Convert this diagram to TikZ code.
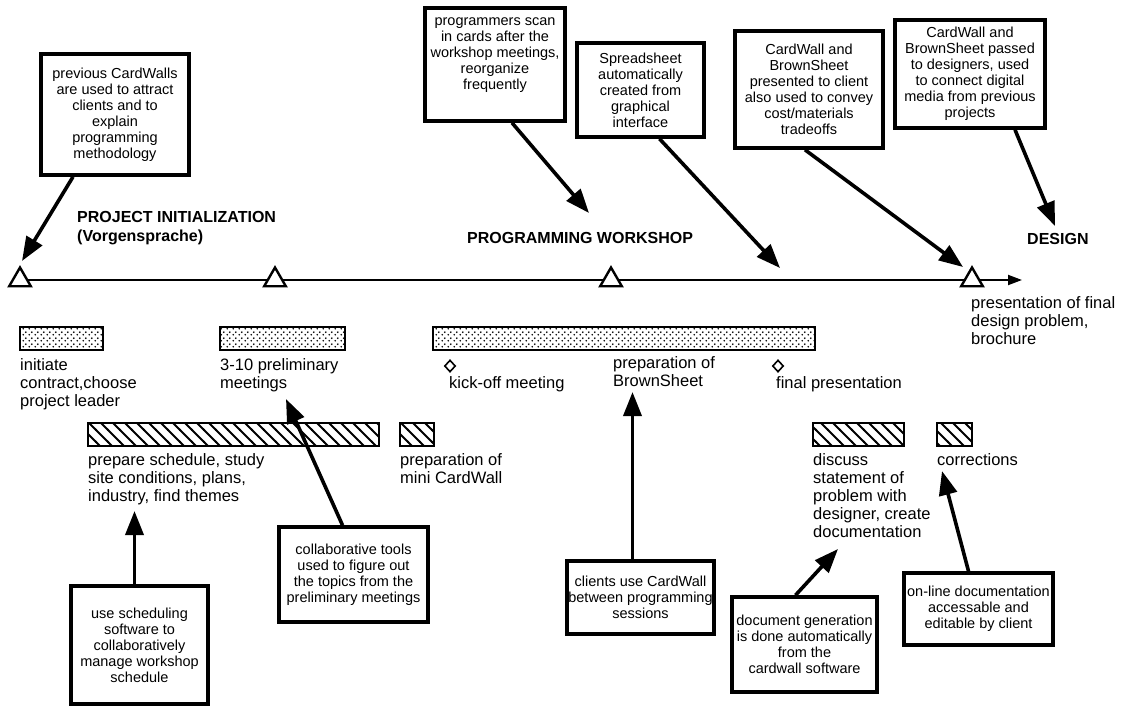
\documentclass[tikz,border=0pt]{standalone}
\usepackage{fontspec}
\setmainfont{Liberation Sans}
\usetikzlibrary{arrows.meta,shapes.geometric,patterns}
\pgfdeclarepatternformonly{sparsedots}{\pgfqpoint{0pt}{0pt}}{\pgfqpoint{5.5pt}{5.5pt}}{\pgfqpoint{5.5pt}{5.5pt}}{%
  \pgfpathcircle{\pgfqpoint{1.375pt}{1.375pt}}{1pt}%
  \pgfpathcircle{\pgfqpoint{4.125pt}{4.125pt}}{1pt}%
  \pgfusepath{fill}}
\pgfdeclarepatternformonly{widehatch}{\pgfqpoint{-1pt}{-1pt}}{\pgfqpoint{13pt}{13pt}}{\pgfqpoint{12pt}{12pt}}{%
  \pgfsetlinewidth{1.8pt}%
  \pgfpathmoveto{\pgfqpoint{-1pt}{13pt}}\pgfpathlineto{\pgfqpoint{13pt}{-1pt}}\pgfusepath{stroke}}
\tikzset{
  callout/.style={draw, line width=3.6pt, align=center, inner sep=0pt,
    font=\fontsize{14.5}{16}\selectfont},
  lbl/.style={anchor=north west, align=left, inner sep=0pt,
    font=\fontsize{16.5}{18}\selectfont},
  phase/.style={anchor=north west, align=left, inner sep=0pt,
    font=\fontsize{16}{19}\selectfont\bfseries},
  callarrow/.style={line width=3.6pt, -{Triangle[length=24pt,width=18pt]}},
  tri/.style={regular polygon, regular polygon sides=3, draw, fill=white,
    line width=2.4pt, minimum size=25pt, inner sep=0pt},
  dia/.style={diamond, draw, line width=1.6pt, minimum width=11pt, minimum height=12pt, inner sep=0pt},
  dotbar/.style={draw, line width=2.8pt, pattern=sparsedots},
  hatchbar/.style={draw, line width=2.8pt, pattern=widehatch},
}
\begin{document}
\begin{tikzpicture}[x=1pt,y=-1pt]
\useasboundingbox (0,0) rectangle (1129,706);
\fill[white] (0,0) rectangle (1129,706);

% timeline
\coordinate (tlstart) at (20,280);
\coordinate (tlend) at (1022,280);
\draw[line width=2pt, -{Triangle[length=14pt,width=10pt]}] (tlstart) -- (tlend);
\node[tri] (t1) at (20,280) {};
\node[tri] (t2) at (275,280) {};
\node[tri] (t3) at (611,280) {};
\node[tri] (t4) at (972,280) {};

% phase headings
\node[phase] (ph1) at (77,211) {PROJECT INITIALIZATION\\(Vorgensprache)};
\node[phase] (ph2) at (467,232) {PROGRAMMING WORKSHOP};
\node[phase] (ph3) at (1027,233) {DESIGN};

% top callouts
\node[callout, minimum width=148pt, minimum height=121pt] (b1) at (115,114.5)
  {previous CardWalls\\are used to attract\\clients and to\\explain\\programming\\methodology};
\node[callout, minimum width=140pt, minimum height=113pt] (b2) at (495,64.5)
  {programmers scan\\in cards after the\\workshop meetings,\\reorganize\\frequently\\[6pt]};
\node[callout, minimum width=127pt, minimum height=94pt] (b3) at (640.5,90)
  {Spreadsheet\\automatically\\created from\\graphical\\interface};
\node[callout, minimum width=148pt, minimum height=117pt] (b4) at (809,89.5)
  {CardWall and\\BrownSheet\\presented to client\\also used to convey\\cost/materials\\tradeoffs};
\node[callout, minimum width=150pt, minimum height=108pt] (b5) at (970,74)
  {CardWall and\\BrownSheet passed\\to designers, used\\to connect digital\\media from previous\\projects};

\coordinate (a1) at (22,261);
\coordinate (a2) at (589,213);
\coordinate (a3) at (780,268);
\coordinate (a4) at (963,267);
\coordinate (a5) at (1055,226);
\draw[callarrow] ([xshift=-42pt]b1.south) -- (a1);
\draw[callarrow] ([xshift=17pt]b2.south) -- (a2);
\draw[callarrow] ([xshift=19pt]b3.south) -- (a3);
\draw[callarrow] ([xshift=-4pt]b4.south) -- (a4);
\draw[callarrow] ([xshift=45pt]b5.south) -- (a5);

% bars row 1
\draw[dotbar] (20,327) rectangle (103,350);
\draw[dotbar] (220,327) rectangle (345,350);
\draw[dotbar] (433,327) rectangle (815,350);
\node[dia] (d1) at (450,366) {};
\node[dia] (d2) at (778,366) {};

\node[lbl] (l1) at (20,358) {initiate\\contract,choose\\project leader};
\node[lbl] (l2) at (220,358) {3-10 preliminary\\meetings};
\node[lbl] (l3) at (449,376) {kick-off meeting};
\node[lbl] (l4) at (613,356) {preparation of\\BrownSheet};
\node[lbl] (l5) at (776,376) {final presentation};
\node[lbl] (l10) at (971,296) {presentation of final\\design problem,\\brochure};

% bars row 2
\draw[hatchbar] (88,423) rectangle (379,446);
\draw[hatchbar] (400,423) rectangle (434,446);
\draw[hatchbar] (813,423) rectangle (904,446);
\draw[hatchbar] (937,423) rectangle (972,446);

\node[lbl] (l6) at (88,453) {prepare schedule, study\\site conditions, plans,\\industry, find themes};
\node[lbl] (l7) at (400,453) {preparation of\\mini CardWall};
\node[lbl] (l8) at (813,453) {discuss\\statement of\\problem with\\designer, create\\documentation};
\node[lbl] (l9) at (937,453) {corrections};

% bottom callouts
\node[callout, minimum width=137pt, minimum height=118pt] (bA) at (139.5,645)
  {use scheduling\\software to\\collaboratively\\manage workshop\\schedule};
\node[callout, minimum width=149pt, minimum height=95pt] (bB) at (353.5,574.5)
  {collaborative tools\\used to figure out\\the topics from the\\preliminary meetings};
\node[callout, minimum width=147pt, minimum height=73pt] (bC) at (640.5,597.5)
  {clients use CardWall\\between programming\\sessions};
\node[callout, minimum width=145pt, minimum height=95pt] (bD) at (804.5,644.5)
  {document generation\\is done automatically\\from the\\cardwall software};
\node[callout, minimum width=149pt, minimum height=72pt] (bE) at (978.5,609)
  {on-line documentation\\accessable and\\editable by client};

\coordinate (aA) at (134.5,511);
\coordinate (aB) at (286,399);
\coordinate (aC) at (632.5,392);
\coordinate (aD) at (838,549);
\coordinate (aE) at (942,471);
\draw[callarrow] ([xshift=-5pt]bA.north) -- (aA);
\draw[callarrow] ([xshift=-11pt]bB.north) -- (aB);
\draw[callarrow] ([xshift=-8pt]bC.north) -- (aC);
\draw[callarrow] ([xshift=-9pt]bD.north) -- (aD);
\draw[callarrow] ([xshift=-10pt]bE.north) -- (aE);
\end{tikzpicture}
\end{document}
